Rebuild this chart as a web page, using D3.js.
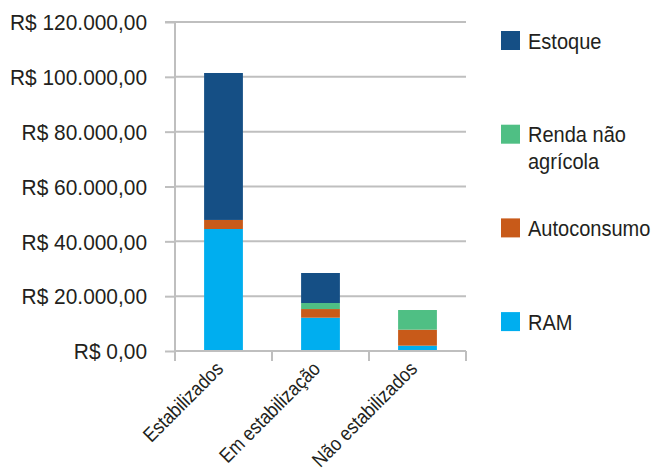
<!DOCTYPE html>
<html><head><meta charset="utf-8">
<script src="https://cdn.jsdelivr.net/npm/d3@7/dist/d3.min.js"></script>
<style>
body{margin:0;background:#fff;}
text{font-family:"Liberation Sans",Arial,sans-serif;fill:#231f20;}
</style></head>
<body><svg id="c" width="656" height="468"></svg>
<script>
const categories = ["Estabilizados", "Em estabilização", "Não estabilizados"];
const seriesNames = ["RAM", "Autoconsumo", "Renda não agrícola", "Estoque"];
const ram = [44500, 12150, 1950];
const autoconsumo = [3300, 3150, 5830];
const rendaNaoAgricola = [0, 2200, 7170];
const estoque = [53600, 10950, 0];
const yTicks = [0, 20000, 40000, 60000, 80000, 100000, 120000];
const colors = ["#00aeef", "#c85a19", "#4fbf84", "#154f85"];
const legendOrder = [["Estoque"], ["Renda não", "agrícola"], ["Autoconsumo"], ["RAM"]];
const legendColors = ["#154f85", "#4fbf84", "#c85a19", "#00aeef"];

const svg = d3.select("#c");
const pL = 175, pR = 466, pT = 22, pB = 351;
const x = d3.scaleBand().domain(categories).range([pL, pR]).paddingInner(0.6).paddingOuter(0.3);
const y = d3.scaleLinear().domain([0, 120000]).range([pB, pT]);

const rows = categories.map((c, i) => ({cat: c, "RAM": ram[i], "Autoconsumo": autoconsumo[i], "Renda não agrícola": rendaNaoAgricola[i], "Estoque": estoque[i]}));
const stack = d3.stack().keys(seriesNames)(rows);

// gridlines
svg.append("g").selectAll("line").data(yTicks.slice(1)).join("line")
  .attr("x1", pL).attr("x2", pR).attr("y1", d => y(d)).attr("y2", d => y(d))
  .attr("stroke", "#bfbfbf").attr("stroke-width", 2);

// bars
svg.append("g").selectAll("g").data(stack).join("g")
  .attr("fill", (d, i) => colors[i])
  .selectAll("rect").data(d => d).join("rect")
  .attr("x", d => x(d.data.cat)).attr("width", x.bandwidth())
  .attr("y", d => y(d[1])).attr("height", d => Math.max(0, y(d[0]) - y(d[1])));

// y axis
const ya = svg.append("g").attr("transform", `translate(${pL},0)`)
  .call(d3.axisLeft(y).tickValues(yTicks).tickSize(10).tickPadding(18)
    .tickFormat(d => "R$ " + (d === 0 ? "0,00" : d3.format(",")(d).replace(/,/g, ".") + ",00")));
ya.select(".domain").attr("stroke", "#bfbfbf").attr("stroke-width", 2).attr("d", `M-10,${pT}H0V${pB}`);
ya.selectAll(".tick line").attr("stroke", "#bfbfbf").attr("stroke-width", 2);
ya.selectAll(".tick text").style("font-size", "22px").attr("fill", "#231f20")
  .attr("x", 0).attr("dy", "0.35em").attr("transform", "translate(-28,0) scale(0.95,1)");

// x axis
const xa = svg.append("g").attr("transform", `translate(0,${pB})`);
xa.append("line").attr("x1", pL).attr("x2", pR).attr("stroke", "#bfbfbf").attr("stroke-width", 2);
const bounds = d3.range(categories.length + 1).map(i => pL + i * (pR - pL) / categories.length);
xa.selectAll(".xt").data(bounds).join("line").attr("class", "xt")
  .attr("x1", d => d).attr("x2", d => d).attr("y1", 0).attr("y2", 10)
  .attr("stroke", "#bfbfbf").attr("stroke-width", 2);
xa.selectAll(".xl").data(categories).join("text").attr("class", "xl")
  .attr("transform", d => `translate(${x(d) + x.bandwidth() / 2 + 1},${19}) rotate(-45) scale(0.88,1)`)
  .attr("text-anchor", "end")
  .style("font-size", "20px").text(d => d);

// legend
const lg = svg.append("g");
legendOrder.forEach((lines, i) => {
  const yy = 31 + i * 93.7;
  lg.append("rect").attr("x", 501).attr("y", yy).attr("width", 19).attr("height", 19).attr("fill", legendColors[i]);
  lines.forEach((t, j) => {
    lg.append("text").attr("transform", `translate(528,${yy + 17.5 + j * 27}) scale(0.91,1)`)
      .style("font-size", "22px").text(t);
  });
});
</script></body></html>
